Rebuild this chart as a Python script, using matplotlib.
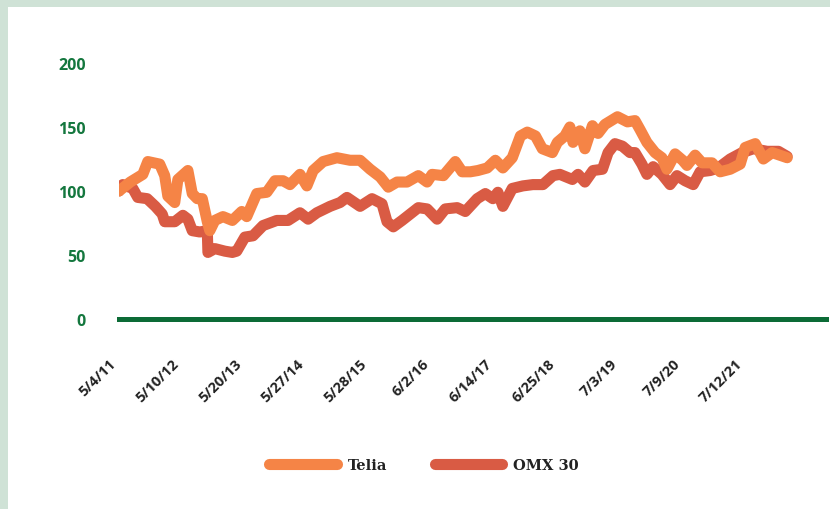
import matplotlib.pyplot as plt
from matplotlib.patches import Rectangle

# positions are in "label steps" along the category axis (0 = 5/4/11)
tick_labels = ["5/4/11", "5/10/12", "5/20/13", "5/27/14", "5/28/15", "6/2/16",
               "6/14/17", "6/25/18", "7/3/19", "7/9/20", "7/12/21"]

telia_x = [0, 0.18, 0.38, 0.46, 0.65, 0.73, 0.78, 0.89, 0.94, 1.10, 1.17, 1.25, 1.33,
           1.41, 1.45, 1.53, 1.66, 1.81, 1.96, 2.04, 2.20, 2.36, 2.49, 2.62, 2.73,
           2.89, 3.00, 3.10, 3.26, 3.48, 3.69, 3.85, 4.01, 4.17, 4.30, 4.44, 4.60,
           4.78, 4.92, 5.00, 5.18, 5.37, 5.48, 5.61, 5.73, 5.88, 6.01, 6.13, 6.28,
           6.41, 6.52, 6.65, 6.76, 6.92, 7.00, 7.12, 7.20, 7.25, 7.36, 7.44, 7.56,
           7.65, 7.76, 7.96, 8.12, 8.24, 8.32, 8.43, 8.56, 8.67, 8.75, 8.88, 9.00,
           9.07, 9.20, 9.31, 9.47, 9.60, 9.76, 9.92, 10.00, 10.16, 10.29, 10.43, 10.67]
telia = [100, 107, 113, 123, 121, 112, 96, 91, 109, 116, 98, 94, 94,
         76, 69, 77, 80, 77, 84, 80, 98, 99, 108, 108, 105,
         113, 104, 116, 123, 126, 124, 124, 117, 111, 103, 107, 107,
         112, 107, 113, 112, 123, 115, 115, 116, 118, 124, 118, 126,
         143, 146, 143, 133, 130, 138, 143, 150, 138, 147, 133, 151,
         145, 152, 158, 154, 155, 148, 138, 130, 126, 117, 129, 124,
         120, 128, 122, 122, 115, 117, 121, 134, 137, 125, 130, 126]

omx_x = [0, 0.06, 0.22, 0.30, 0.45, 0.58, 0.69, 0.73, 0.89, 1.02, 1.10, 1.17, 1.29,
         1.41, 1.42, 1.53, 1.69, 1.81, 1.88, 2.01, 2.14, 2.30, 2.52, 2.70, 2.89,
         3.02, 3.16, 3.37, 3.53, 3.64, 3.85, 4.04, 4.20, 4.28, 4.38, 4.52, 4.65,
         4.78, 4.92, 5.08, 5.21, 5.40, 5.53, 5.72, 5.85, 5.97, 6.05, 6.13, 6.28,
         6.45, 6.61, 6.77, 6.93, 7.04, 7.24, 7.33, 7.44, 7.57, 7.72, 7.81, 7.92,
         8.04, 8.16, 8.24, 8.35, 8.43, 8.53, 8.67, 8.80, 8.91, 9.04, 9.17, 9.28,
         9.44, 9.57, 9.76, 9.95, 10.13, 10.35, 10.53, 10.67]
omx = [100, 105, 102, 95, 94, 88, 82, 76, 76, 81, 78, 69, 68,
       69, 52, 55, 53, 52, 53, 64, 65, 73, 77, 77, 83,
       78, 83, 88, 91, 95, 88, 94, 90, 76, 72, 77, 82,
       87, 86, 78, 86, 87, 84, 94, 98, 94, 99, 88, 102,
       104, 105, 105, 112, 113, 109, 113, 107, 116, 117, 130, 137,
       135, 130, 130, 121, 113, 119, 113, 105, 112, 108, 105, 115,
       116, 118, 125, 130, 133, 131, 131, 127]

fig = plt.figure(figsize=(8.3, 5.1), dpi=100)
fig.patch.set_facecolor("#cfe2d6")
fig.patches.append(Rectangle((8 / 830, 0), 1, 1 - 8 / 510, transform=fig.transFigure,
                             facecolor="white", edgecolor="none", zorder=-10))

ax = fig.add_axes([119 / 830, 190 / 510, 707 / 830, 256 / 510])
ax.set_facecolor("none")

ax.plot(omx_x, omx, color="#d95b44", lw=8, solid_capstyle="round",
        solid_joinstyle="round", label="OMX 30", zorder=2)
ax.plot(telia_x, telia, color="#f58446", lw=8, solid_capstyle="round",
        solid_joinstyle="round", label="Telia", zorder=3)
ax.axhline(0, color="#0c6b36", lw=3.6, clip_on=False, zorder=1)

ax.set_xlim(0, 11.29)
ax.set_ylim(0, 200)
ax.set_yticks([0, 50, 100, 150, 200])
ax.set_xticks(range(len(tick_labels)))
ax.set_xticklabels(tick_labels, rotation=45, ha="right", va="top",
                   fontsize=10.5, fontweight="bold", color="#222222", family="Open Sans")
for lab in ax.get_yticklabels():
    lab.set_fontweight("bold")
    lab.set_fontfamily("Open Sans")
ax.tick_params(axis="y", length=0, pad=24, labelsize=11.5, labelcolor="#14773e")
ax.tick_params(axis="x", length=0, pad=27)
for s in ax.spines.values():
    s.set_visible(False)

handles, labels = ax.get_legend_handles_labels()
leg = fig.legend(handles[::-1], labels[::-1], loc="center", ncol=2,
                 bbox_to_anchor=(424 / 830, 1 - 466 / 510), frameon=False,
                 handlelength=4.6, handletextpad=0.75, columnspacing=3.3,
                 prop={"family": "DejaVu Serif", "weight": "bold", "size": 10.5})
for t in leg.get_texts():
    t.set_color("#222222")

fig.savefig("out.png", dpi=100)
